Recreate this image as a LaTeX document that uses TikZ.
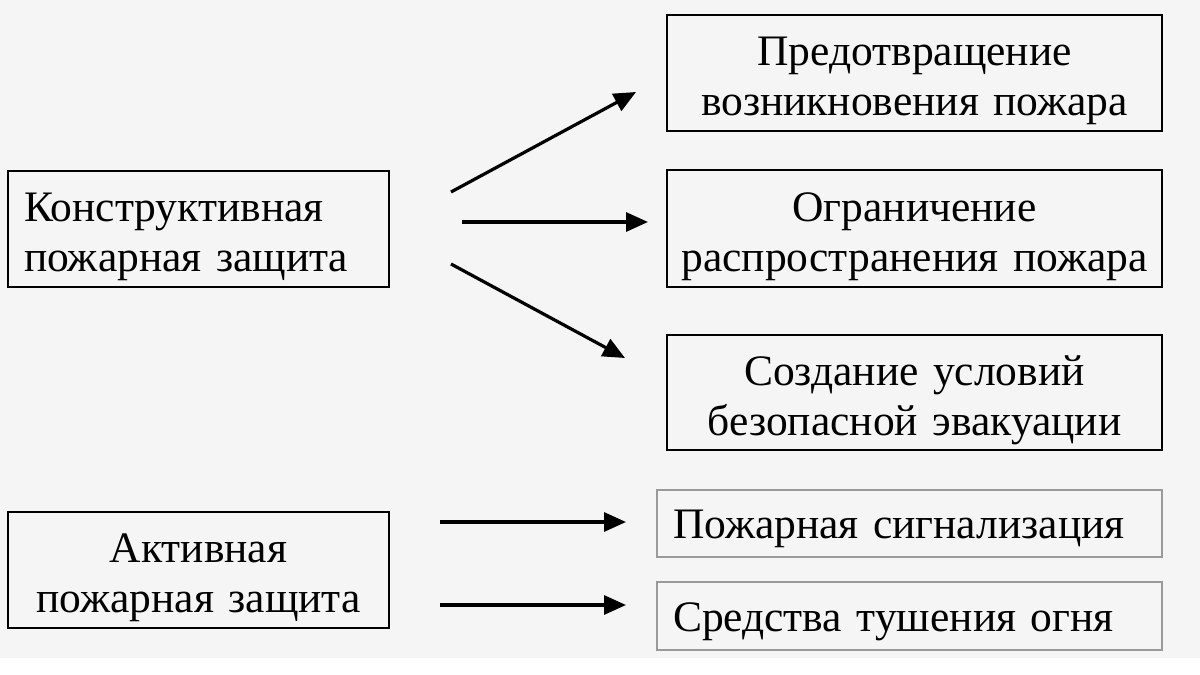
\documentclass[tikz,border=0pt]{standalone}
\usepackage{fontspec}
\setmainfont{Liberation Serif}
\usetikzlibrary{arrows.meta}
\definecolor{bg}{HTML}{F5F5F5}
\definecolor{lightframe}{HTML}{9A9A9A}
\tikzset{
  box/.style={draw=black, line width=2.2pt, minimum height=116pt, inner sep=0pt,
    font=\fontsize{43.5}{50}\selectfont,
    execute at begin node={\rule{0pt}{45pt}}},
  softbox/.style={draw=lightframe, line width=1.4pt, minimum height=67pt, inner sep=0pt,
    font=\fontsize{43.5}{50}\selectfont,
    execute at begin node={\rule{0pt}{40pt}}},
  arr/.style={line width=3.2pt, -{Triangle[length=22pt,width=19pt]}}
}
\begin{document}
\begin{tikzpicture}[x=1pt,y=-1pt]
\useasboundingbox (0,0) rectangle (1200,675);
\fill[bg] (0,0) rectangle (1200,658);
\fill[white] (0,658) rectangle (1200,675);

\node[box, minimum width=381pt, text width=349pt, align=left] (k) at (198.5,229)
  {Конструктивная\\пожарная защита};
\node[box, minimum width=381pt, text width=381pt, align=center] (a) at (198.5,570)
  {Активная\\пожарная защита};

\node[box, minimum width=495pt, text width=495pt, align=center] (r1) at (914.5,73)
  {Предотвращение\\возникновения пожара};
\node[box, minimum width=495pt, minimum height=117pt, text width=495pt, align=center] (r2) at (914.5,228.5)
  {Ограничение\\распространения пожара};
\node[box, minimum width=495pt, minimum height=115pt, text width=495pt, align=center] (r3) at (914.5,392.5)
  {Создание условий\\безопасной эвакуации};
\node[softbox, minimum width=505pt, text width=473pt, align=left] (r4) at (909.5,523.5)
  {Пожарная сигнализация};
\node[softbox, minimum width=505pt, minimum height=68pt, text width=473pt, align=left] (r5) at (909.5,616)
  {Средства тушения огня};

\coordinate (s1) at (451,192);
\coordinate (e1) at (636,92);
\coordinate (s2) at (462,222);
\coordinate (e2) at (648,222);
\coordinate (s3) at (451,264);
\coordinate (e3) at (625,358);
\coordinate (s4) at (440,522);
\coordinate (e4) at (626,522);
\coordinate (s5) at (440,605);
\coordinate (e5) at (626,605);

\draw[arr] (s1) -- (e1);
\draw[arr] (s2) -- (e2);
\draw[arr] (s3) -- (e3);
\draw[arr] (s4) -- (e4);
\draw[arr] (s5) -- (e5);
\end{tikzpicture}
\end{document}
